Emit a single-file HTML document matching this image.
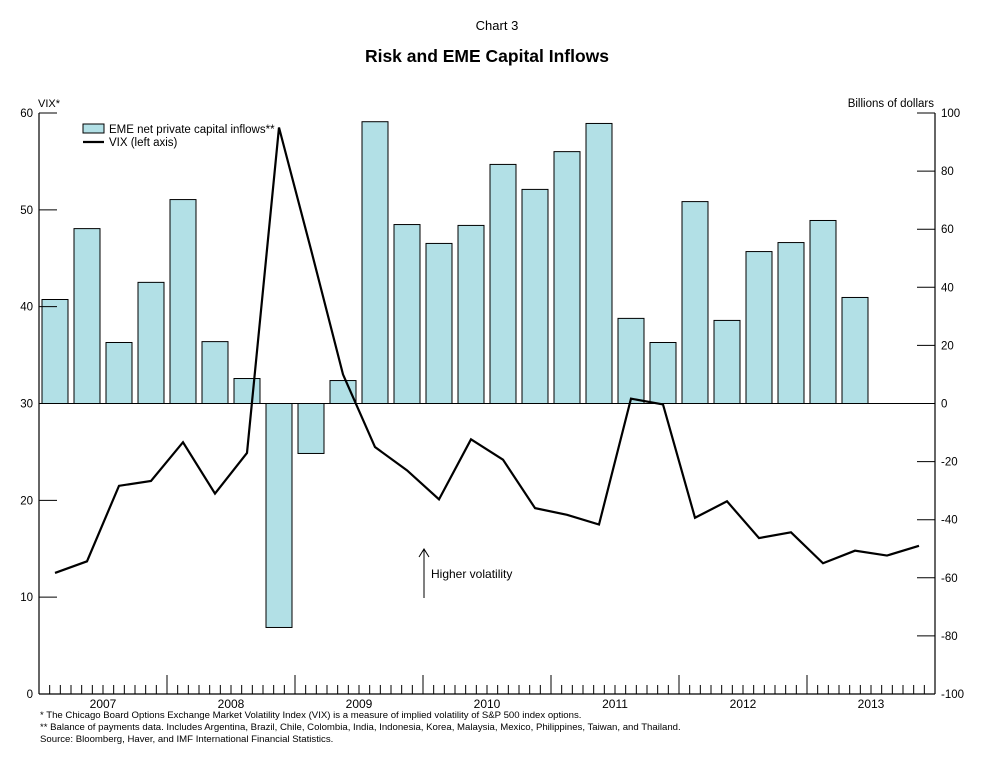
<!DOCTYPE html>
<html><head><meta charset="utf-8"><style>
body{margin:0;background:#fff;}
svg{display:block;font-family:"Liberation Sans",Arial,sans-serif;}
</style></head><body>
<svg id="chart" width="1000" height="769">
<text x="497" y="30" font-size="13" text-anchor="middle">Chart 3</text>
<text x="487" y="62" font-size="17.5" font-weight="bold" text-anchor="middle">Risk and EME Capital Inflows</text>
<text x="38" y="107" font-size="11">VIX*</text>
<text x="934" y="107" font-size="11.5" text-anchor="end">Billions of dollars</text>
<g id="bars"></g>
<g id="axes"></g>
<polyline id="vix" fill="none" stroke="#000" stroke-width="2.2" stroke-linejoin="miter"/>
<g>
<rect x="83" y="124" width="21" height="9" fill="#b2e0e6" stroke="#000" stroke-width="1"/>
<text x="109" y="133" font-size="11.5">EME net private capital inflows**</text>
<line x1="83" y1="142" x2="104" y2="142" stroke="#000" stroke-width="2.2"/>
<text x="109" y="146" font-size="11.5">VIX (left axis)</text>
</g>
<g>
<line x1="424" y1="598" x2="424" y2="550" stroke="#000" stroke-width="1"/>
<polyline points="419,557 424,549 429,557" fill="none" stroke="#000" stroke-width="1"/>
<text x="431" y="578" font-size="12">Higher volatility</text>
</g>
<g font-size="9.6">
<text x="40" y="718">* The Chicago Board Options Exchange Market Volatility Index (VIX) is a measure of implied volatility of S&amp;P 500 index options.</text>
<text x="40" y="730">** Balance of payments data. Includes Argentina, Brazil, Chile, Colombia, India, Indonesia, Korea, Malaysia, Mexico, Philippines, Taiwan, and Thailand.</text>
<text x="40" y="742">Source: Bloomberg, Haver, and IMF International Financial Statistics.</text>
</g>
</svg>
<script>
const years=["2007","2008","2009","2010","2011","2012","2013"];
const inflows=[35.8,60.2,21,41.7,70.2,21.3,8.6,-77.1,-17.2,7.9,97,61.6,55.1,61.3,82.3,73.7,86.7,96.4,29.3,21,69.5,28.6,52.3,55.4,63,36.5];
const vix=[12.5,13.7,21.5,22.0,26.0,20.7,24.9,58.5,45.9,33.0,25.5,23.1,20.1,26.3,24.2,19.2,18.5,17.5,30.5,29.9,18.2,19.9,16.1,16.7,13.5,14.8,14.3,15.3];
const leftTicks=[0,10,20,30,40,50,60];
const rightTicks=[-100,-80,-60,-40,-20,0,20,40,60,80,100];
const X0=39,X1=935,Y0=113,Y1=694,NQ=28;
const qw=(X1-X0)/NQ;
const xq=i=>X0+qw*(i+0.5);
const yL=v=>Y1-(v/60)*(Y1-Y0);
const yR=v=>Y1-((v+100)/200)*(Y1-Y0);
const NS="http://www.w3.org/2000/svg";
function mk(tag,attrs,parent){const e=document.createElementNS(NS,tag);for(const k in attrs)e.setAttribute(k,attrs[k]);parent.appendChild(e);return e;}
const bars=document.getElementById('bars');
inflows.forEach((v,i)=>{
 const y0=yR(0),y=yR(v);
 const r=mk('rect',{x:xq(i)-13,y:Math.min(y0,y),width:26,height:Math.abs(y-y0),fill:'#b2e0e6',stroke:'#000','stroke-width':1},bars);
 
 
});
const ax=document.getElementById('axes');
mk('line',{x1:X0,y1:Y0,x2:X0,y2:Y1,stroke:'#000','stroke-width':1.2},ax);
mk('line',{x1:X1,y1:Y0,x2:X1,y2:Y1,stroke:'#000','stroke-width':1.2},ax);
mk('line',{x1:X0,y1:Y1,x2:X1,y2:Y1,stroke:'#000','stroke-width':1.2},ax);
mk('line',{x1:X0,y1:yR(0),x2:X1,y2:yR(0),stroke:'#000','stroke-width':1},ax);
leftTicks.forEach(v=>{
 mk('line',{x1:X0,y1:yL(v),x2:X0+18,y2:yL(v),stroke:'#000','stroke-width':1},ax);
 const t=mk('text',{x:X0-6,y:yL(v)+4,'font-size':11.5,'text-anchor':'end'},ax);t.textContent=v;
 
 
});
rightTicks.forEach(v=>{
 mk('line',{x1:X1-18,y1:yR(v),x2:X1,y2:yR(v),stroke:'#000','stroke-width':1},ax);
 const t=mk('text',{x:X1+6,y:yR(v)+4,'font-size':11.5},ax);t.textContent=v;
 
 
});
const mw=(X1-X0)/(NQ*3);
for(let m=1;m<NQ*3;m++){
 const big=m%12===0;
 mk('line',{x1:X0+m*mw,y1:Y1,x2:X0+m*mw,y2:Y1-(big?19:9),stroke:'#000','stroke-width':1},ax);
}
years.forEach((y,i)=>{
 const t=mk('text',{x:X0+mw*12*(i+0.5),y:Y1+14,'font-size':12,'text-anchor':'middle'},ax);t.textContent=y;
 
 
});
document.getElementById('vix').setAttribute('points',vix.map((v,i)=>xq(i)+','+yL(v)).join(' '));
</script>
</body></html>
